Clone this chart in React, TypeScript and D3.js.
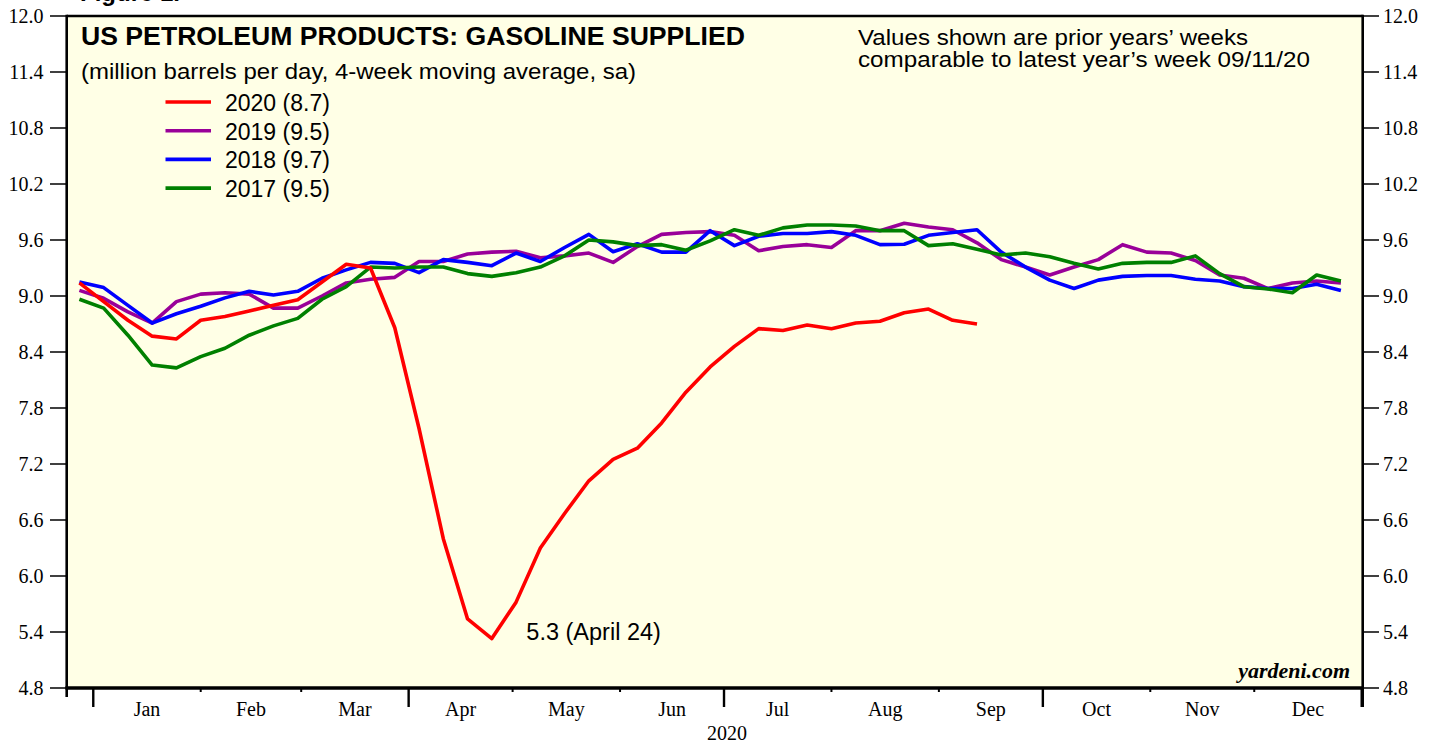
import React from "react";
import * as d3 from "d3";

// ---- data (weekly, 4-week moving average, million barrels per day) ----
const firstWeek = new Date(2019, 11, 28);
const yTicks = [4.8, 5.4, 6.0, 6.6, 7.2, 7.8, 8.4, 9.0, 9.6, 10.2, 10.8, 11.4, 12.0];
const monthLabels = ["Jan", "Feb", "Mar", "Apr", "May", "Jun", "Jul", "Aug", "Sep", "Oct", "Nov", "Dec"];

const s2020 = [9.14, 8.94, 8.74, 8.57, 8.54, 8.74, 8.78, 8.84, 8.9, 8.96, 9.15, 9.34, 9.3, 8.66, 7.58, 6.4, 5.54, 5.33, 5.72, 6.3, 6.67, 7.02, 7.25, 7.37, 7.64, 7.97, 8.24, 8.46, 8.65, 8.63, 8.69, 8.65, 8.71, 8.73, 8.82, 8.86, 8.74, 8.7];
const s2019 = [9.06, 8.975, 8.83, 8.71, 8.94, 9.02, 9.035, 9.02, 8.87, 8.87, 9.0, 9.14, 9.18, 9.2, 9.37, 9.37, 9.45, 9.47, 9.48, 9.41, 9.43, 9.46, 9.36, 9.53, 9.66, 9.68, 9.69, 9.65, 9.485, 9.53, 9.55, 9.52, 9.7, 9.7, 9.78, 9.74, 9.71, 9.57, 9.39, 9.31, 9.225, 9.31, 9.39, 9.55, 9.47, 9.46, 9.38, 9.225, 9.19, 9.08, 9.14, 9.16, 9.14];
const s2018 = [9.15, 9.09, 8.9, 8.71, 8.81, 8.89, 8.98, 9.05, 9.01, 9.05, 9.19, 9.28, 9.36, 9.35, 9.25, 9.39, 9.36, 9.325, 9.46, 9.37, 9.52, 9.66, 9.475, 9.56, 9.47, 9.47, 9.7, 9.54, 9.64, 9.67, 9.67, 9.69, 9.65, 9.55, 9.555, 9.65, 9.68, 9.71, 9.47, 9.31, 9.17, 9.08, 9.17, 9.21, 9.22, 9.22, 9.18, 9.16, 9.1, 9.08, 9.08, 9.125, 9.06];
const s2017 = [8.965, 8.87, 8.58, 8.26, 8.23, 8.35, 8.44, 8.58, 8.68, 8.76, 8.965, 9.1, 9.31, 9.3, 9.31, 9.31, 9.24, 9.21, 9.25, 9.31, 9.43, 9.6, 9.58, 9.54, 9.55, 9.49, 9.59, 9.71, 9.65, 9.73, 9.76, 9.76, 9.75, 9.7, 9.7, 9.54, 9.56, 9.5, 9.44, 9.46, 9.42, 9.35, 9.29, 9.35, 9.36, 9.36, 9.43, 9.24, 9.1, 9.075, 9.035, 9.225, 9.16];

const legendLabels = ["2020 (8.7)", "2019 (9.5)", "2018 (9.7)", "2017 (9.5)"];
const legendColors = ["#ff0000", "#990099", "#0000ff", "#008000"];
const minIndex = 17;
const minLabel = "5.3 (April 24)";

const W = 1439;
const H = 744;
const L = 66.7;
const R = 1362.7;
const T = 16;
const B = 688;

const SANS = "'Liberation Sans', Arial, Helvetica, sans-serif";
const SERIF = "'Liberation Serif', 'Times New Roman', Times, serif";

export default function App() {
  const x = d3
    .scaleTime()
    .domain([new Date(2019, 11, 24, 8), new Date(2021, 0, 1, 7)])
    .range([L, R]);
  const y = d3.scaleLinear().domain([4.8, 12]).range([B, T]);

  const weekDate = (i: number) => d3.timeDay.offset(firstWeek, 7 * i);
  const line = d3
    .line<number>()
    .x((_, i) => x(weekDate(i)))
    .y((d) => y(d));

  const monthStarts = d3.timeMonth.range(new Date(2020, 0, 1), new Date(2021, 0, 2));

  // draw order bottom -> top
  const drawOrder = [
    { data: s2019, color: legendColors[1] },
    { data: s2018, color: legendColors[2] },
    { data: s2017, color: legendColors[3] },
    { data: s2020, color: legendColors[0] },
  ];

  return (
    <svg
      width={W}
      height={H}
      style={{ position: "absolute", left: 0, top: 0, background: "#ffffff" }}
    >
      <defs>
        <clipPath id="plotclip">
          <rect x={L} y={T} width={R - L} height={B - T} />
        </clipPath>
      </defs>

      {/* clipped figure caption at very top */}
      <text x={80} y={1} fontFamily={SANS} fontWeight="bold" fontSize={24} fill="#000">
        Figure 1.
      </text>

      {/* plot background */}
      <rect x={L} y={T} width={R - L} height={B - T} fill="#ffffe6" />

      {/* series */}
      <g clipPath="url(#plotclip)">
        {drawOrder.map((s, i) => (
          <path
            key={i}
            d={line(s.data) || ""}
            fill="none"
            stroke={s.color}
            strokeWidth={3.6}
            strokeLinejoin="round"
            strokeLinecap="butt"
          />
        ))}
      </g>

      {/* frame */}
      <line x1={L} x2={R} y1={T} y2={T} stroke="#000" strokeWidth={2.6} />
      <line x1={L} x2={L} y1={T - 1.3} y2={B + 9} stroke="#000" strokeWidth={2.6} />
      <line x1={R} x2={R} y1={T - 1.3} y2={B + 19} stroke="#000" strokeWidth={2.6} />
      <line x1={L - 1.3} x2={R + 1.3} y1={B} y2={B} stroke="#000" strokeWidth={3.4} />

      {/* y ticks left & right */}
      {yTicks.map((t) => (
        <g key={t}>
          <line x1={50} x2={L} y1={y(t)} y2={y(t)} stroke="#000" strokeWidth={1.5} />
          <line x1={R} x2={1379} y1={y(t)} y2={y(t)} stroke="#000" strokeWidth={1.5} />
          <text
            x={43.5}
            y={y(t) + 7}
            textAnchor="end"
            fontFamily={SERIF}
            fontSize={20}
            fill="#000"
          >
            {t.toFixed(1)}
          </text>
          <text
            x={1383}
            y={y(t) + 7}
            textAnchor="start"
            fontFamily={SERIF}
            fontSize={20}
            fill="#000"
          >
            {t.toFixed(1)}
          </text>
        </g>
      ))}

      {/* x ticks */}
      {monthStarts.map((d, i) => {
        const major = d.getMonth() % 3 === 0;
        return (
          <line
            key={i}
            x1={x(d)}
            x2={x(d)}
            y1={B}
            y2={major ? B + 19 : B + 4}
            stroke="#000"
            strokeWidth={major ? 2.4 : 2}
          />
        );
      })}

      {/* month labels */}
      {monthLabels.map((m, i) => {
        const a = x(monthStarts[i]);
        const b = x(monthStarts[i + 1]);
        return (
          <text
            key={m}
            x={(a + b) / 2}
            y={716}
            textAnchor="middle"
            fontFamily={SERIF}
            fontSize={20}
            fill="#000"
          >
            {m}
          </text>
        );
      })}
      <text x={727} y={740} textAnchor="middle" fontFamily={SERIF} fontSize={20} fill="#000">
        2020
      </text>

      {/* titles */}
      <text
        x={81}
        y={45}
        fontFamily={SANS}
        fontWeight="bold"
        fontSize={25.5}
        textLength={664}
        lengthAdjust="spacingAndGlyphs"
        fill="#000"
      >
        US PETROLEUM PRODUCTS: GASOLINE SUPPLIED
      </text>
      <text
        x={81}
        y={78.5}
        fontFamily={SANS}
        fontSize={22.5}
        textLength={555}
        lengthAdjust="spacingAndGlyphs"
        fill="#000"
      >
        (million barrels per day, 4-week moving average, sa)
      </text>

      <text
        x={858}
        y={45}
        fontFamily={SANS}
        fontSize={22.5}
        textLength={390}
        lengthAdjust="spacingAndGlyphs"
        fill="#000"
      >
        Values shown are prior years’ weeks
      </text>
      <text
        x={858}
        y={67}
        fontFamily={SANS}
        fontSize={22.5}
        textLength={452}
        lengthAdjust="spacingAndGlyphs"
        fill="#000"
      >
        comparable to latest year’s week 09/11/20
      </text>

      {/* legend */}
      {legendLabels.map((lab, i) => {
        const ly = 102 + i * 28.7;
        return (
          <g key={lab}>
            <line x1={165.5} x2={211} y1={ly} y2={ly} stroke={legendColors[i]} strokeWidth={3.6} />
            <text x={225} y={ly + 9} fontFamily={SANS} fontSize={23} fill="#000">
              {lab}
            </text>
          </g>
        );
      })}

      {/* annotation */}
      <text
        x={x(weekDate(minIndex)) + 34.5}
        y={y(s2020[minIndex]) + 1.5}
        fontFamily={SANS}
        fontSize={23.5}
        fill="#000"
      >
        {minLabel}
      </text>

      {/* source */}
      <text
        x={1350}
        y={678}
        textAnchor="end"
        fontFamily={SERIF}
        fontWeight="bold"
        fontStyle="italic"
        fontSize={22}
        fill="#000"
      >
        yardeni.com
      </text>
    </svg>
  );
}
